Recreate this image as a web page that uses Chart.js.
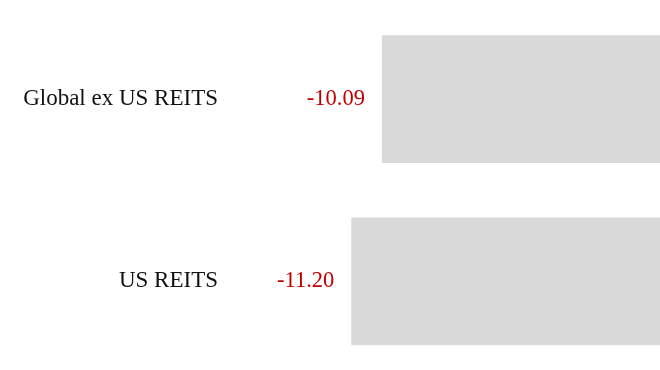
<!DOCTYPE html>
<html>
<head>
<meta charset="utf-8">
<script src="https://cdn.jsdelivr.net/npm/chart.js@4"></script>
<style>
  html, body { margin: 0; padding: 0; background: #fff; overflow: hidden; }
  #wrap { width: 660px; height: 380px; }
</style>
</head>
<body>
<div id="wrap"><canvas id="myChart"></canvas></div>
<script>
const categories = ["Global ex US REITS", "US REITS"];
const values = [-10.09, -11.20];

const valueLabels = {
	id: "valueLabels",
	afterDatasetsDraw(chart) {
		const ctx = chart.ctx;
		const meta = chart.getDatasetMeta(0);
		ctx.save();
		ctx.font = "22.5px 'Liberation Serif'";
		ctx.fillStyle = "rgb(192, 0, 0)";
		ctx.textAlign = "right";
		ctx.textBaseline = "middle";
		meta.data.forEach((bar, i) => {
			ctx.fillText(values[i].toFixed(2), bar.x - 17, bar.y);
		});
		ctx.restore();
	}
};

const barCanvas = document.getElementById("myChart");

const myChart = new Chart(barCanvas, {
	type: "bar",
	data: {
		labels: categories,
		datasets: [
			{
				data: values,
				backgroundColor: "rgb(217, 217, 217)",
				barPercentage: 0.7,
				categoryPercentage: 1,
			},
		],
	},
	options: {
		indexAxis: "y",
		responsive: true,
		maintainAspectRatio: false,
		animation: false,
		layout: { padding: { top: 8, right: 0, bottom: 0, left: 0 } },
		scales: {
			x: {
				display: false,
				min: -15.6,
				max: 0,
			},
			y: {
				border: { display: false },
				grid: { display: false, drawTicks: true, tickLength: 12 },
				ticks: {
					color: "#111",
					padding: 0,
					font: { family: "'Liberation Serif'", size: 23, lineHeight: 0.65 },
				},
				afterFit(axis) { axis.width = 230; },
			},
		},
		plugins: {
			legend: { display: false },
			tooltip: { enabled: false },
		},
	},
	plugins: [valueLabels],
});
</script>
</body>
</html>
